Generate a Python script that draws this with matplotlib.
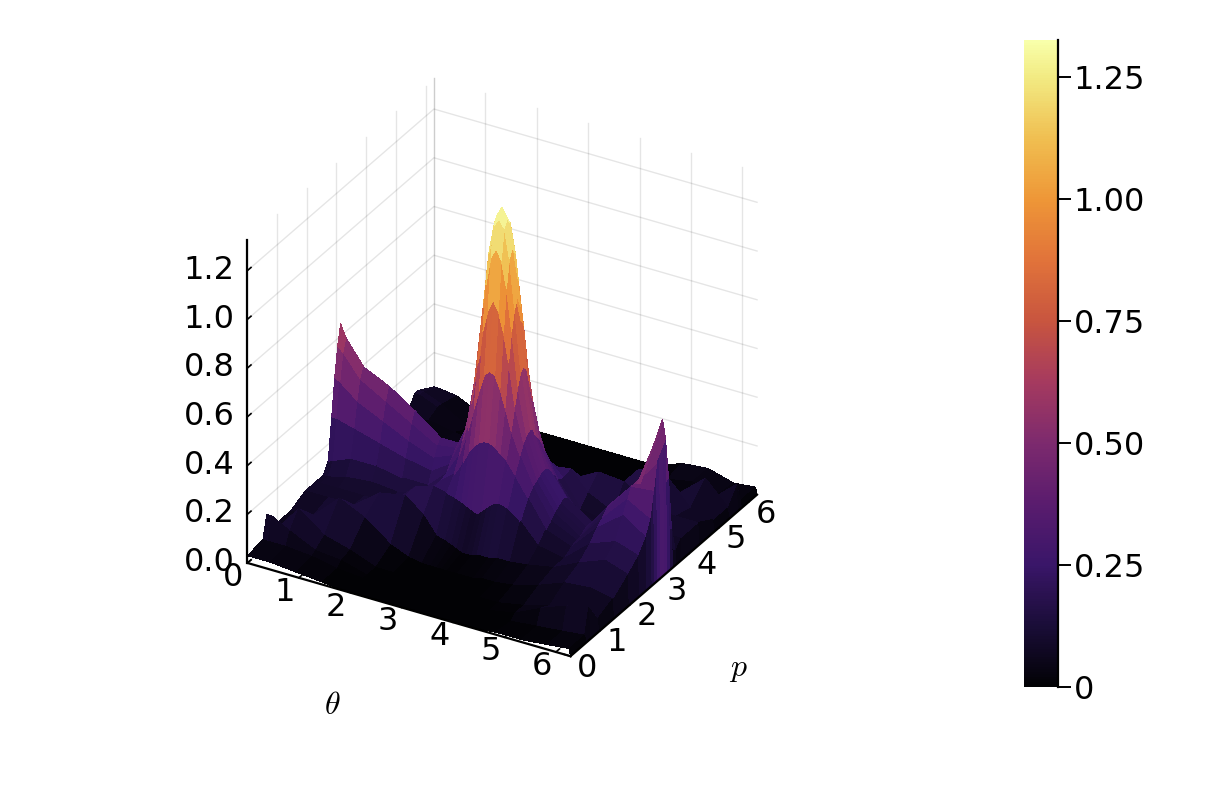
import numpy as np
import matplotlib
matplotlib.use("Agg")
import matplotlib.pyplot as plt
from matplotlib.colors import LinearSegmentedColormap
from mpl_toolkits.mplot3d import proj3d

plt.rcParams["mathtext.fontset"] = "cm"

# grid, denser around the central peak
theta_vals = [0.00, 0.10, 0.45, 0.95, 1.45, 1.95, 2.30, 2.55, 2.72, 2.84, 2.94, 3.04, 3.14,
              3.24, 3.34, 3.44, 3.56, 3.73, 3.98, 4.33, 4.83, 5.33, 5.83, 6.26, 6.28]
p_vals = [0.00, 0.52, 0.65, 0.95, 1.45, 1.95, 2.30, 2.55, 2.72, 2.84, 2.94, 3.04, 3.14,
          3.24, 3.34, 3.44, 3.56, 3.73, 3.98, 4.33, 4.83, 5.33, 5.63, 5.76, 6.28]

# heights, one table per quadrant around the peak
# rows go away from p = pi, columns go away from theta = pi
front_left = [
    [1.32, 1.28, 1.17, .97, .69, .42, .30, .30, .38, .45, .50, .60, .65],
    [1.28, 1.25, 1.13, .92, .67, .41, .29, .28, .34, .40, .46, .55, .57],
    [1.17, 1.13, 1.01, .83, .60, .39, .27, .24, .28, .33, .38, .44, .45],
    [.97, .92, .83, .69, .52, .36, .25, .20, .22, .25, .28, .30, .30],
    [.69, .67, .60, .52, .42, .31, .22, .15, .15, .17, .17, .14, .13],
    [.42, .41, .39, .36, .31, .25, .21, .14, .11, .12, .11, .09, .09],
    [.15, .16, .17, .18, .19, .20, .21, .19, .09, .09, .09, .09, .09],
    [.02, .02, .03, .04, .05, .06, .13, .19, .17, .09, .09, .09, .09],
    [0, 0, 0, 0, 0, 0, .01, .04, .12, .17, .07, .06, .06],
    [0, 0, 0, 0, 0, 0, 0, 0, .04, .07, .15, .06, .06],
    [0, 0, 0, 0, 0, 0, 0, 0, .03, .04, .09, .13, .13],
    [0, 0, 0, 0, 0, 0, 0, 0, .01, .03, .04, .04, .04],
    [0, 0, 0, 0, 0, 0, 0, 0, .01, .02, .03, .03, .03],
]
front_right = [
    [1.32, 1.28, 1.17, .97, .69, .45, .30, .20, .12, .23, .35, .64, 0],
    [1.28, 1.25, 1.13, .93, .68, .45, .30, .19, .12, .24, .36, .60, 0],
    [1.17, 1.13, 1.02, .85, .63, .44, .29, .18, .11, .25, .37, .48, 0],
    [.97, .93, .85, .73, .56, .42, .28, .17, .10, .24, .37, .38, 0],
    [.69, .68, .63, .56, .47, .38, .27, .15, .10, .22, .33, .28, 0],
    [.42, .42, .41, .39, .37, .32, .24, .13, .09, .20, .28, .22, 0],
    [.15, .17, .19, .21, .22, .21, .17, .09, .07, .16, .20, .17, 0],
    [.02, .02, .03, .03, .03, .04, .04, .05, .07, .12, .16, .13, 0],
    [0, 0, 0, 0, 0, .01, .01, .02, .05, .09, .10, .08, 0],
    [0, 0, 0, 0, 0, 0, 0, 0, .02, .05, .05, .05, 0],
    [0, 0, 0, 0, 0, 0, 0, 0, .02, .07, .11, .13, 0],
    [0, 0, 0, 0, 0, 0, 0, 0, 0, .01, .02, .03, 0],
    [0, 0, 0, 0, 0, 0, 0, 0, .01, .01, .02, .03, 0],
]
back_left = [
    [1.32, 1.28, 1.17, .97, .69, .42, .30, .30, .38, .45, .50, .60, .65],
    [1.28, 1.25, 1.13, .92, .67, .41, .29, .28, .30, .36, .42, .50, .55],
    [1.17, 1.13, 1.01, .83, .60, .39, .27, .22, .24, .26, .30, .36, .40],
    [.97, .92, .83, .69, .52, .36, .25, .18, .17, .17, .18, .20, .22],
    [.69, .67, .60, .52, .42, .31, .22, .14, .11, .10, .10, .10, .09],
    [.42, .41, .39, .36, .31, .25, .20, .12, .08, .07, .07, .06, .06],
    [.25, .25, .24, .23, .21, .20, .18, .12, .05, .04, .04, .04, .04],
    [.09, .09, .09, .10, .10, .10, .10, .10, .04, .03, .03, .03, .03],
    [.01, .01, .01, .01, .02, .02, .02, .03, .08, .04, .02, .02, .02],
    [0, 0, 0, 0, 0, 0, 0, 0, .01, .03, .05, .03, .03],
    [0, 0, 0, 0, 0, 0, 0, 0, 0, .01, .07, .10, .10],
    [0, 0, 0, 0, 0, 0, 0, 0, 0, .01, .07, .10, .10],
    [0, 0, 0, 0, 0, 0, 0, 0, 0, 0, .05, .06, .06],
]
back_right = [
    [1.32, 1.28, 1.17, .97, .69, .42, .28, .20, .12, .23, .35, .64, 0],
    [1.28, 1.25, 1.13, .92, .67, .41, .29, .19, .12, .19, .30, .55, 0],
    [1.17, 1.13, 1.01, .83, .60, .39, .27, .16, .10, .13, .20, .38, 0],
    [.97, .92, .83, .69, .52, .36, .24, .13, .08, .09, .11, .16, 0],
    [.69, .67, .60, .52, .42, .31, .21, .11, .07, .08, .09, .06, 0],
    [.42, .41, .39, .36, .31, .25, .20, .09, .07, .08, .09, .09, 0],
    [.25, .25, .24, .23, .21, .20, .21, .13, .08, .09, .09, .09, 0],
    [.09, .09, .09, .10, .11, .12, .14, .18, .17, .09, .09, .09, 0],
    [.01, .01, .01, .01, .02, .02, .03, .03, .17, .18, .07, .05, 0],
    [0, 0, 0, 0, 0, 0, 0, 0, .01, .05, .14, .05, 0],
    [0, 0, 0, 0, 0, 0, 0, 0, 0, .01, .03, .11, 0],
    [0, 0, 0, 0, 0, 0, 0, 0, .03, .05, .03, .03, 0],
    [0, 0, 0, 0, 0, 0, 0, 0, .04, .05, .02, .03, 0],
]

axis_ticks = [0, 1, 2, 3, 4, 5, 6]
z_ticks = [0.0, 0.2, 0.4, 0.6, 0.8, 1.0, 1.2]
cbar_ticks = [0, 0.25, 0.5, 0.75, 1.0, 1.25]
cbar_labels = ["0", "0.25", "0.50", "0.75", "1.00", "1.25"]

# colours, bottom to top
cmap_colors = ["#020205", "#1a0d38", "#3a1669", "#5a1c6e", "#7d2a6e", "#a53a5f", "#c8553f",
               "#e1733a", "#ee9637", "#f0be50", "#f2ea82", "#f8ffaa"]
cmap_stops = [0, 0.094, 0.189, 0.283, 0.377, 0.471, 0.566, 0.66, 0.754, 0.848, 0.943, 1]
bar_cmap = LinearSegmentedColormap.from_list("bar", list(zip(cmap_stops, cmap_colors)))

# put the quadrants together
fl = np.array(front_left)
fr = np.array(front_right)
bl = np.array(back_left)
br = np.array(back_right)
front = np.hstack([fl[::-1, ::-1], fr[::-1, 1:]])
back = np.hstack([bl[1:, ::-1], br[1:, 1:]])
surface_z = np.vstack([front, back])

W, H = 1214, 794
t_max, p_max, z_max = 2 * np.pi, 2 * np.pi, 1.326

fig = plt.figure(figsize=(W / 100, H / 100), dpi=100)
ax = fig.add_axes([-115.5 / W, 19 / H, 1, 1], projection="3d", proj_type="ortho")
ax.computed_zorder = False
ax.view_init(elev=30, azim=-60)
ax.set_xlim(0, t_max, view_margin=0)
ax.set_ylim(0, p_max, view_margin=0)
ax.set_zlim(0, z_max, view_margin=0)
ax.set_box_aspect((1, 1, 1), zoom=0.79)
ax.set_axis_off()


def label3d(x, y, z, s, ha):
    # flat text placed where the 3d point lands
    x2, y2, _ = proj3d.proj_transform(x, y, z, ax.get_proj())
    ax.text2D(x2, y2, s, fontsize=23, ha=ha, va="center", transform=ax.transData)


# walls
grid_c = (0, 0, 0, 0.1)
for t in axis_ticks:
    ax.plot([t, t], [p_max, p_max], [0, z_max], color=grid_c, lw=1, zorder=1)
for p in axis_ticks:
    ax.plot([0, 0], [p, p], [0, z_max], color=grid_c, lw=1, zorder=1)
for z in z_ticks:
    ax.plot([0, 0, t_max], [0, p_max, p_max], [z, z, z], color=grid_c, lw=1, zorder=1)
ax.plot([0, 0], [p_max, p_max], [0, z_max], color=grid_c, lw=1, zorder=1)

# ticks on the floor sit under the surface
for t in axis_ticks:
    ax.plot([t, t], [0, 0.12], [0, 0], color="black", lw=1.2, zorder=1)
for p in axis_ticks:
    ax.plot([t_max, t_max - 0.12], [p, p], [0, 0], color="black", lw=1.2, zorder=1)

T, P = np.meshgrid(theta_vals, p_vals)
surf = ax.plot_surface(T, P, surface_z, cmap=bar_cmap, vmin=0, vmax=z_max, rstride=1, cstride=1,
                       linewidth=0, antialiased=False, shade=False, zorder=2)

# axis lines and labels
ax.plot([0, t_max], [0, 0], [0, 0], color="black", lw=1.6, zorder=3)
ax.plot([t_max, t_max], [0, p_max], [0, 0], color="black", lw=1.6, zorder=3)
ax.plot([0, 0], [0, 0], [0, z_max], color="black", lw=1.6, zorder=3)
for z in z_ticks:
    ax.plot([0, 0], [0, 0.12], [z, z], color="black", lw=1.2, zorder=3)
    label3d(-0.19, -0.10, z, f"{z:.1f}", "right")
for t in axis_ticks:
    label3d(t + 0.04, -0.54, 0, str(t), "center")
for p in axis_ticks:
    label3d(t_max + 0.45, p - 0.21, 0, str(p), "center")

fig.text(332 / W, 1 - 706 / H, r"$\theta$", fontsize=23, ha="center", va="center")
fig.text(738 / W, 1 - 668 / H, r"$p$", fontsize=23, ha="center", va="center")

# colorbar
cax = fig.add_axes([1024 / W, 1 - 687 / H, 34 / W, 647 / H])
cb = fig.colorbar(surf, cax=cax)
cb.outline.set_visible(False)
cax.spines["right"].set_visible(True)
cax.spines["right"].set_linewidth(1.6)
cb.set_ticks(cbar_ticks, labels=cbar_labels)
cax.tick_params(labelsize=23, length=9.4, width=1.4, pad=2)

fig.savefig("out.png", dpi=100)
